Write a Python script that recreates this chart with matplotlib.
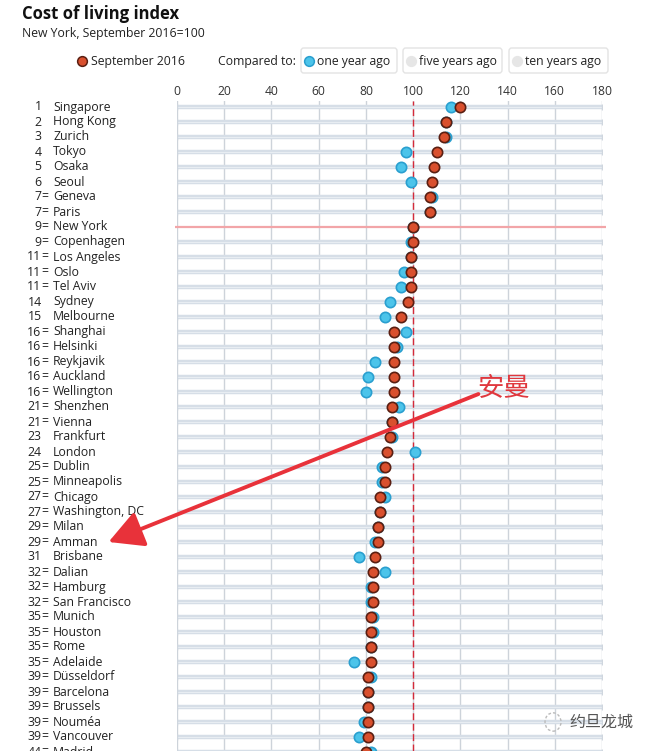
import matplotlib
matplotlib.use("Agg")
import matplotlib.pyplot as plt
from matplotlib.patches import FancyBboxPatch, FancyArrowPatch, Circle
from matplotlib.lines import Line2D
import matplotlib.transforms as mtransforms

W, H = 654, 751

cities = ["Singapore", "Hong Kong", "Zurich", "Tokyo", "Osaka", "Seoul", "Geneva", "Paris",
          "New York", "Copenhagen", "Los Angeles", "Oslo", "Tel Aviv", "Sydney", "Melbourne",
          "Shanghai", "Helsinki", "Reykjavik", "Auckland", "Wellington", "Shenzhen", "Vienna",
          "Frankfurt", "London", "Dublin", "Minneapolis", "Chicago", "Washington, DC", "Milan",
          "Amman", "Brisbane", "Dalian", "Hamburg", "San Francisco", "Munich", "Houston", "Rome",
          "Adelaide", "Düsseldorf", "Barcelona", "Brussels", "Nouméa", "Vancouver", "Madrid"]
ranks = ["1", "2", "3", "4", "5", "6", "7=", "7=", "9=", "9=", "11=", "11=", "11=", "14", "15",
         "16=", "16=", "16=", "16=", "16=", "21=", "21=", "23", "24", "25=", "25=", "27=", "27=",
         "29=", "29=", "31", "32=", "32=", "32=", "35=", "35=", "35=", "35=", "39=", "39=", "39=",
         "39=", "39=", "44="]
sep2016 = [120, 114, 113, 110, 109, 108, 107, 107, 100, 100, 99, 99, 99, 98, 95, 92, 92, 92, 92,
           92, 91, 91, 90, 89, 88, 88, 86, 86, 85, 85, 84, 83, 83, 83, 82, 82, 82, 82, 81, 81, 81,
           81, 81, 80]
one_year = [116, 114, 114, 97, 95, 99, 108, 107, 100, 99, 99, 96, 95, 90, 88, 97, 93, 84, 81, 80,
            94, 91, 91, 101, 87, 87, 88, 86, 85, 84, 77, 88, 82, 82, 83, 83, 82, 75, 82, 81, 81,
            79, 77, 82]
xticks = [0, 20, 40, 60, 80, 100, 120, 140, 160, 180]

RED = "#d9502e"
RED_EDGE = "#5a1f12"
BLUE = "#4cc4ea"
BLUE_EDGE = "#2a9fcf"
FONT = ["Open Sans", "DejaVu Sans"]
CJK = ["Noto Sans CJK SC", "DejaVu Sans"]
plt.rcParams["font.family"] = FONT


def fx(x):
    return x / W


def fy(y):
    return 1 - y / H


fig = plt.figure(figsize=(W / 100, H / 100), dpi=100)
fig.patch.set_facecolor("white")

# plot area: x 0..180 -> px 177..602 ; rows start at px 107, 15 px apart
top_px, bot_px = 101, 751
ax = fig.add_axes([fx(177), fy(bot_px), (602 - 177) / W, (bot_px - top_px) / H])
ax.set_xlim(0, 180)
ax.set_ylim((bot_px - 107) / 15, (top_px - 107) / 15)
ax.set_facecolor("none")
for s in ax.spines.values():
    s.set_visible(False)
ax.set_yticks([])
ax.xaxis.tick_top()
ax.set_xticks(xticks)
ax.set_xticklabels([str(t) for t in xticks], fontsize=8.7, color="#333333")
ax.tick_params(axis="x", length=0, pad=2)

for t in xticks:
    ax.axvline(t, color="#cdd3da", lw=1, zorder=1)

rows = list(range(len(cities)))
for r, c in zip(rows, cities):
    if c == "New York":
        ax.plot([-0.9, 181.5], [r, r], color="#f2a5a8", lw=1.6, zorder=2, clip_on=False,
                solid_capstyle="butt")
    else:
        ax.plot([0, 180], [r, r], color="#d6dee7", lw=3.2, zorder=2, solid_capstyle="butt")
        ax.plot([0, 180], [r, r], color="#e8edf2", lw=0.8, zorder=2, solid_capstyle="butt")
        ax.plot([0, 180], [r, r], ls="none", marker="|", ms=5, mew=1, color="#cfd6de", zorder=2)

ax.axvline(100, color="#d42a3a", lw=1, ls=(0, (5, 2.5)), zorder=3)

ax.scatter(one_year, rows, s=55, color=BLUE, edgecolor=BLUE_EDGE, linewidth=1.2, zorder=4)
ax.scatter(sep2016, rows, s=55, color=RED, edgecolor=RED_EDGE, linewidth=1.2, zorder=5)

# rank and city labels
tr = mtransforms.blended_transform_factory(fig.transFigure, ax.transData)
for r, rk, c in zip(rows, ranks, cities):
    num = rk.rstrip("=")
    ax.text(fx(41.5), r, num, transform=tr, ha="right", va="center", fontsize=8.8,
            color="#222222", clip_on=False)
    if rk.endswith("="):
        ax.text(fx(41.3), r, "=", transform=tr, ha="left", va="center", fontsize=8.8,
                color="#222222", clip_on=False)
    ax.text(fx(53), r, c, transform=tr, ha="left", va="center", fontsize=8.8,
            color="#222222", clip_on=False)

# title
fig.text(fx(22), fy(14), "Cost of living index", fontsize=12, fontweight="bold",
         color="#111111", va="center", ha="left")
fig.text(fx(22), fy(33), "New York, September 2016=100", fontsize=8.8, color="#222222",
         va="center", ha="left")

# legend
fig.add_artist(Line2D([fx(82)], [fy(61)], marker="o", ms=7, color=RED, mec=RED_EDGE, mew=1.1,
                      transform=fig.transFigure))
fig.text(fx(91), fy(61), "September 2016", fontsize=8.8, color="#222222", va="center")
fig.text(fx(218), fy(61), "Compared to:", fontsize=8.8, color="#222222", va="center")
boxes = [(301, 397, "one year ago", BLUE, BLUE_EDGE), (403, 502, "five years ago", "#e6e6e6", "#e6e6e6"),
         (509, 608, "ten years ago", "#e6e6e6", "#e6e6e6")]
for x0, x1, lab, fc, ec in boxes:
    fig.add_artist(FancyBboxPatch((fx(x0), fy(73)), fx(x1 - x0), (73 - 48) / H,
                                  boxstyle="round,pad=0,rounding_size=0.004",
                                  transform=fig.transFigure, fc="white", ec="#e3e3e3", lw=1))
    fig.add_artist(Line2D([fx(x0 + 8)], [fy(61)], marker="o", ms=7, color=fc, mec=ec, mew=1.1,
                          transform=fig.transFigure))
    fig.text(fx(x0 + 16), fy(61), lab, fontsize=8.8, color="#222222", va="center")

# annotation
fig.text(fx(504), fy(388), "安曼", fontsize=19, color="#e0383e", va="center", ha="center",
         family=CJK, fontweight="light")
fig.add_artist(FancyArrowPatch((fx(481), fy(393)), (fx(106), fy(543)),
                               transform=fig.transFigure, arrowstyle="-|>,head_length=1.4,head_width=0.75",
                               mutation_scale=15, color="#e8323a", lw=2.8, zorder=10))

# watermark
fig.add_artist(Circle((fx(553), fy(722)), 8 / W, transform=fig.transFigure, fc="none",
                      ec="#bbbbbb", lw=1, ls=(0, (2, 1.5))))
fig.text(fx(569), fy(722), "约旦龙城", fontsize=11.5, color="#555555", va="center", ha="left",
         family=CJK)

fig.savefig("out.png", dpi=100)
